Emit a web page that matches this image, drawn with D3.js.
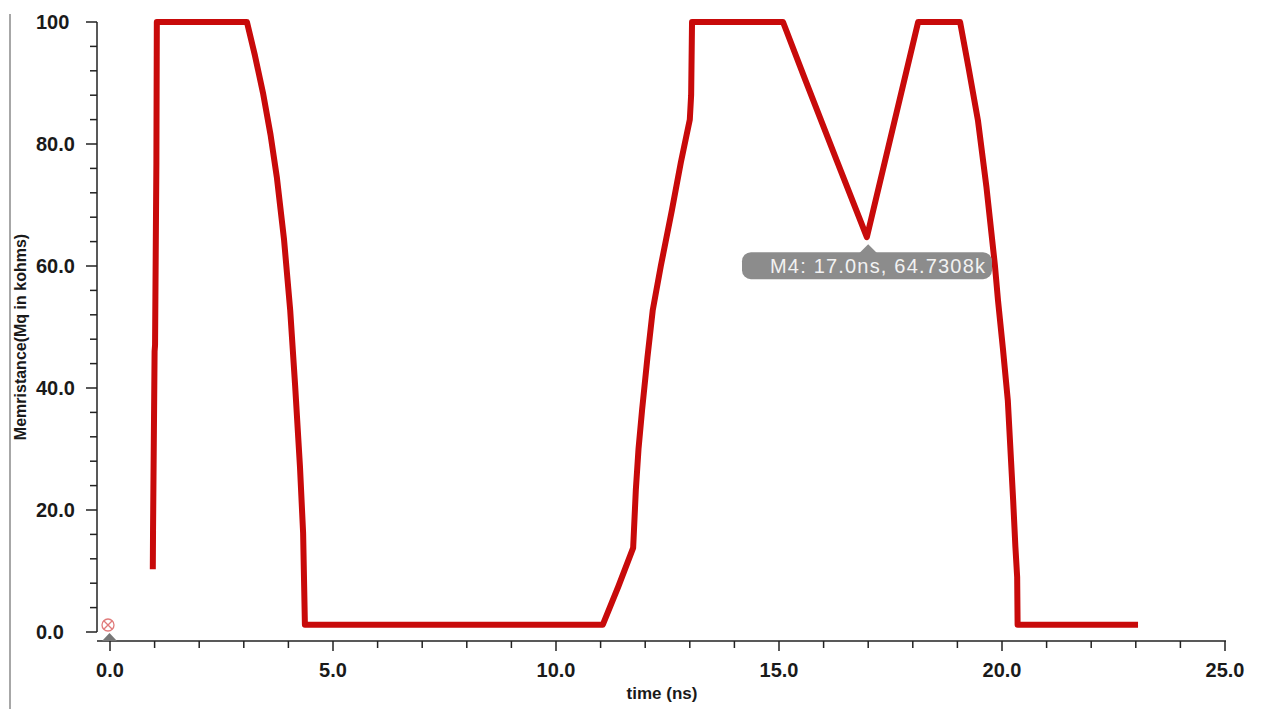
<!DOCTYPE html>
<html>
<head>
<meta charset="utf-8">
<script src="https://cdn.jsdelivr.net/npm/d3@7"></script>
<style>
  body { margin: 0; background: #fff; }
  text { font-family: "Liberation Sans", Arial, sans-serif; }
</style>
</head>
<body>
<div id="chart"></div>
<script>
// data
const timeNs = [0.96, 0.965, 1.0, 1.01, 1.04, 1.05,
  3.07, 3.25, 3.43, 3.6, 3.74, 3.9, 4.04, 4.15, 4.26, 4.33, 4.37,
  11.05, 11.4, 11.73, 11.79, 11.85, 11.93, 12.05, 12.17, 12.35, 12.6, 12.8, 13.0, 13.03, 13.05,
  15.09, 15.6, 16.3, 16.97, 18.12,
  19.06, 19.25, 19.46, 19.65, 19.84, 19.91, 20.02, 20.13, 20.25, 20.3, 20.34, 20.35, 23.05];
const memristance = [10.3, 16.7, 46, 47, 76.9, 100,
  100, 94.5, 88.4, 81.5, 74.6, 64.5, 52.8, 40.5, 27, 16.2, 1.2,
  1.2, 7.5, 13.8, 23.3, 30, 36.4, 45, 52.8, 60, 69.2, 77, 84, 88, 100,
  100, 90.3, 77.2, 64.73, 100,
  100, 92.5, 83.9, 73, 60.2, 54.4, 46.5, 38, 21.6, 14, 9, 1.2, 1.2];

const xMajor = [0, 5, 10, 15, 20, 25];
const xTickLabels = ["0.0", "5.0", "10.0", "15.0", "20.0", "25.0"];
const yMajor = [0, 20, 40, 60, 80, 100];
const yTickLabels = ["0.0", "20.0", "40.0", "60.0", "80.0", "100"];
const marker = { t: 17.0, v: 64.7308, label: "M4: 17.0ns, 64.7308k" };

const width = 1264, height = 709;
const svg = d3.select("#chart").append("svg")
  .attr("width", width)
  .attr("height", height);

const x = d3.scaleLinear().domain([0, 25]).range([110, 1225]);
const y = d3.scaleLinear().domain([0, 100]).range([632, 22]);

// left frame line
svg.append("line")
  .attr("x1", 10).attr("x2", 10).attr("y1", 14).attr("y2", height)
  .attr("stroke", "#8a8a8a").attr("stroke-width", 1.5);

// y axis
const yAxis = svg.append("g");
yAxis.append("line")
  .attr("x1", 97).attr("x2", 97).attr("y1", y(100)).attr("y2", y(0))
  .attr("stroke", "#222").attr("stroke-width", 1.5);
yAxis.selectAll(".ymin")
  .data(d3.range(0, 101, 4))
  .enter().append("line")
  .attr("x1", d => yMajor.includes(d) ? 86 : 90)
  .attr("x2", 97)
  .attr("y1", d => y(d)).attr("y2", d => y(d))
  .attr("stroke", "#222").attr("stroke-width", 1.5);
yAxis.selectAll(".ylab")
  .data(yMajor)
  .enter().append("text")
  .attr("x", 36)
  .attr("y", d => y(d) + 7)
  .attr("font-size", 20)
  .attr("font-weight", "bold")
  .attr("fill", "#1a1a1a")
  .text((d, i) => yTickLabels[i]);

// x axis
const xAxis = svg.append("g");
xAxis.append("line")
  .attr("x1", 97).attr("x2", 1226).attr("y1", 641).attr("y2", 641)
  .attr("stroke", "#222").attr("stroke-width", 1.5);
xAxis.selectAll(".xmin")
  .data(d3.range(0, 26, 1))
  .enter().append("line")
  .attr("x1", d => x(d)).attr("x2", d => x(d))
  .attr("y1", 641)
  .attr("y2", d => xMajor.includes(d) ? 651 : 648)
  .attr("stroke", "#222").attr("stroke-width", 1.5);
xAxis.selectAll(".xlab")
  .data(xMajor)
  .enter().append("text")
  .attr("x", d => x(d))
  .attr("y", 677)
  .attr("text-anchor", "middle")
  .attr("font-size", 20)
  .attr("font-weight", "bold")
  .attr("fill", "#1a1a1a")
  .text((d, i) => xTickLabels[i]);

// axis titles
svg.append("text")
  .attr("x", 662).attr("y", 699)
  .attr("text-anchor", "middle")
  .attr("font-size", 17).attr("font-weight", "bold").attr("fill", "#1a1a1a")
  .text("time (ns)");
svg.append("text")
  .attr("transform", "translate(26,337) rotate(-90)")
  .attr("text-anchor", "middle")
  .attr("font-size", 16).attr("font-weight", "bold").attr("fill", "#1a1a1a")
  .text("Memristance(Mq in kohms)");

// the curve
const line = d3.line()
  .x((d, i) => x(timeNs[i]))
  .y((d, i) => y(memristance[i]));
svg.append("path")
  .attr("d", line(timeNs))
  .attr("fill", "none")
  .attr("stroke", "#c80a0a")
  .attr("stroke-width", 6)
  .attr("stroke-linejoin", "round")
  .attr("stroke-linecap", "butt");

// origin marker
svg.append("path")
  .attr("d", `M${x(0) - 8},641 L${x(0) + 7},641 L${x(0) - 0.5},633 Z`)
  .attr("fill", "#777");
const cx = x(0) - 2, cy = 625;
svg.append("circle")
  .attr("cx", cx).attr("cy", cy).attr("r", 6)
  .attr("fill", "none").attr("stroke", "#e07a7a").attr("stroke-width", 1.3);
svg.append("path")
  .attr("d", `M${cx - 4},${cy - 4}L${cx + 4},${cy + 4}M${cx + 4},${cy - 4}L${cx - 4},${cy + 4}`)
  .attr("stroke", "#e07a7a").attr("stroke-width", 1.3);

// M4 tooltip
const mx = x(marker.t), my = y(marker.v);
svg.append("rect")
  .attr("x", 742).attr("y", my + 15).attr("width", 250).attr("height", 27)
  .attr("rx", 9).attr("fill", "#8c8c8c");
svg.append("path")
  .attr("d", `M${mx - 9},${my + 16} L${mx + 9},${my + 16} L${mx},${my + 7} Z`)
  .attr("fill", "#8c8c8c");
svg.append("text")
  .attr("x", 770).attr("y", my + 36)
  .attr("font-size", 20)
  .attr("fill", "#f2f2f2")
  .attr("textLength", 215)
  .text(marker.label);
</script>
</body>
</html>
